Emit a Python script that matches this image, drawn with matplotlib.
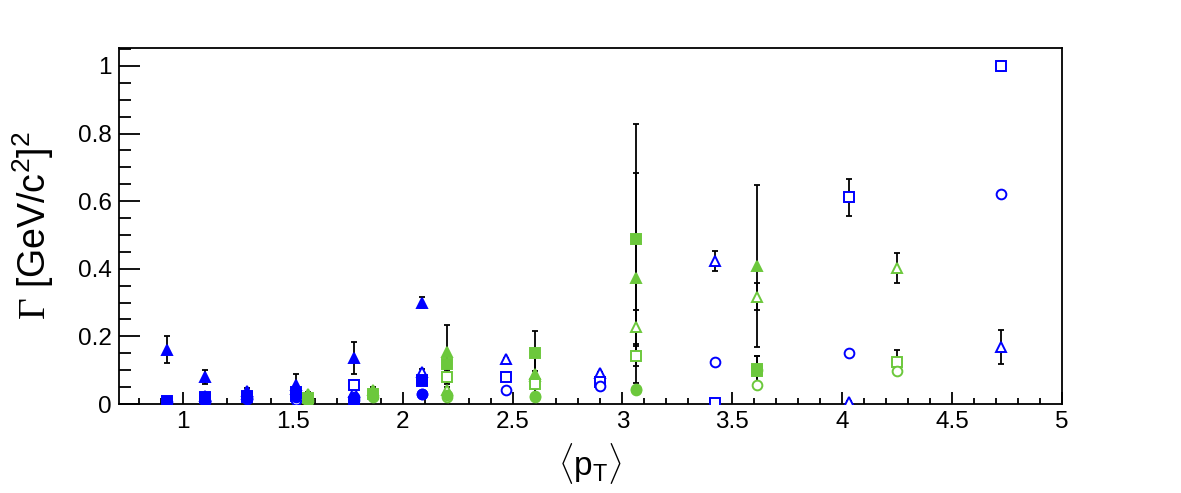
import numpy as np
import matplotlib.pyplot as plt
from matplotlib.ticker import MultipleLocator

plt.rcParams['font.family'] = ['Liberation Sans', 'DejaVu Sans']
plt.rcParams['mathtext.fontset'] = 'custom'
plt.rcParams['mathtext.rm'] = 'Liberation Sans'
plt.rcParams['mathtext.it'] = 'Liberation Sans'
plt.rcParams['mathtext.sf'] = 'Liberation Serif'

blue = '#0000ff'
green = '#6cc83c'

# blue, filled markers (low pT)
x_bf = [0.93, 1.10, 1.29, 1.515, 1.78, 2.09]
y_bf_tri = [0.160, 0.080, 0.038, 0.055, 0.136, 0.300]
e_bf_tri = [0.040, 0.021, 0.010, 0.033, 0.047, 0.016]
y_bf_sq = [0.008, 0.018, 0.025, 0.035, 0.005, 0.072]
e_bf_sq = [0.003, 0.005, 0.005, 0.008, 0.003, 0.010]
y_bf_circ = [0.006, 0.010, 0.015, 0.020, 0.020, 0.030]
e_bf_circ = [0.002, 0.004, 0.004, 0.006, 0.004, 0.006]

# blue, open markers
x_bo = [1.10, 1.29, 1.515, 1.78, 2.09, 2.47, 2.90, 3.42, 4.03, 4.72]
y_bo_tri = [0.025, 0.030, 0.045, 0.035, 0.095, 0.133, 0.092, 0.423, 0.005, 0.169]
e_bo_tri = [0.005, 0.005, 0.008, 0.006, 0.010, 0.004, 0.004, 0.031, 0.003, 0.050]
y_bo_sq = [0.020, 0.020, 0.025, 0.056, 0.068, 0.080, 0.065, 0.003, 0.612, 1.000]
e_bo_sq = [0.004, 0.004, 0.006, 0.006, 0.008, 0.004, 0.004, 0.002, 0.055, 0.015]
y_bo_circ = [0.010, 0.020, 0.012, 0.012, 0.030, 0.040, 0.053, 0.124, 0.151, 0.621]
e_bo_circ = [0.003, 0.003, 0.004, 0.004, 0.006, 0.003, 0.003, 0.004, 0.004, 0.006]

# green, filled markers
x_gf = [1.57, 1.865, 2.20, 2.60, 3.06, 3.61]
y_gf_tri = [0.030, 0.042, 0.155, 0.090, 0.372, 0.408]
e_gf_tri = [0.005, 0.008, 0.080, 0.060, 0.310, 0.240]
y_gf_sq = [0.018, 0.030, 0.118, 0.150, 0.488, 0.103]
e_gf_sq = [0.004, 0.006, 0.030, 0.066, 0.340, 0.040]
y_gf_circ = [0.010, 0.020, 0.027, 0.022, 0.044, 0.100]
e_gf_circ = [0.003, 0.004, 0.006, 0.005, 0.010, 0.010]

# green, open markers
x_go = [2.20, 2.60, 3.06, 3.61, 4.25]
y_go_tri = [0.040, 0.083, 0.228, 0.317, 0.402]
e_go_tri = [0.010, 0.015, 0.050, 0.040, 0.045]
y_go_sq = [0.080, 0.060, 0.142, 0.097, 0.124]
e_go_sq = [0.020, 0.015, 0.030, 0.045, 0.036]
y_go_circ = [0.020, 0.025, 0.040, 0.056, 0.098]
e_go_circ = [0.004, 0.005, 0.006, 0.006, 0.006]

# open markers first so the filled ones sit on top
series = [
    (x_bo, y_bo_tri, e_bo_tri, blue, '^', False),
    (x_bo, y_bo_sq, e_bo_sq, blue, 's', False),
    (x_bo, y_bo_circ, e_bo_circ, blue, 'o', False),
    (x_go, y_go_tri, e_go_tri, green, '^', False),
    (x_go, y_go_sq, e_go_sq, green, 's', False),
    (x_go, y_go_circ, e_go_circ, green, 'o', False),
    (x_bf, y_bf_tri, e_bf_tri, blue, '^', True),
    (x_bf, y_bf_sq, e_bf_sq, blue, 's', True),
    (x_bf, y_bf_circ, e_bf_circ, blue, 'o', True),
    (x_gf, y_gf_tri, e_gf_tri, green, '^', True),
    (x_gf, y_gf_sq, e_gf_sq, green, 's', True),
    (x_gf, y_gf_circ, e_gf_circ, green, 'o', True),
]

fig = plt.figure(figsize=(11.81, 4.93), dpi=100)
ax = fig.add_axes([0.1008, 0.1805, 0.7985, 0.7221])

# error bars first, markers on top
for x, y, e, c, m, filled in series:
    ax.errorbar(x, y, yerr=e, fmt='none', ecolor='black', elinewidth=1.3,
                capsize=2.2, capthick=1.3, zorder=2)
for x, y, e, c, m, filled in series:
    ax.plot(x, y, linestyle='none', marker=m, ms=7.5 if m != 'o' else 7,
            mec=c, mfc=c if filled else 'white', mew=1.4, zorder=3)

ax.set_xlim(0.71, 5.0)
ax.set_ylim(0, 1.053)
ax.xaxis.set_minor_locator(MultipleLocator(0.1))
ax.yaxis.set_minor_locator(MultipleLocator(0.05))
ax.set_xticks([1, 1.5, 2, 2.5, 3, 3.5, 4, 4.5, 5])
ax.set_xticklabels(['1', '1.5', '2', '2.5', '3', '3.5', '4', '4.5', '5'])
ax.set_yticks([0, 0.2, 0.4, 0.6, 0.8, 1.0])
ax.set_yticklabels(['0', '0.2', '0.4', '0.6', '0.8', '1'])
ax.tick_params(axis='both', which='both', direction='in', labelsize=17.5,
               top=False, right=False, width=1.3)
ax.tick_params(axis='x', which='major', length=9, pad=5)
ax.tick_params(axis='x', which='minor', length=4.5)
ax.tick_params(axis='y', which='major', length=15, pad=5)
ax.tick_params(axis='y', which='minor', length=8.5)
for s in ax.spines.values():
    s.set_linewidth(1.3)

ax.set_xlabel(r'$\langle$p$_{\rm T}\rangle$', fontsize=24, labelpad=6)
ax.set_ylabel(r'$\mathsf{\Gamma}$ [GeV/c$^{2}$]$^{2}$', fontsize=27, labelpad=16)

fig.savefig('out.png', dpi=100)
